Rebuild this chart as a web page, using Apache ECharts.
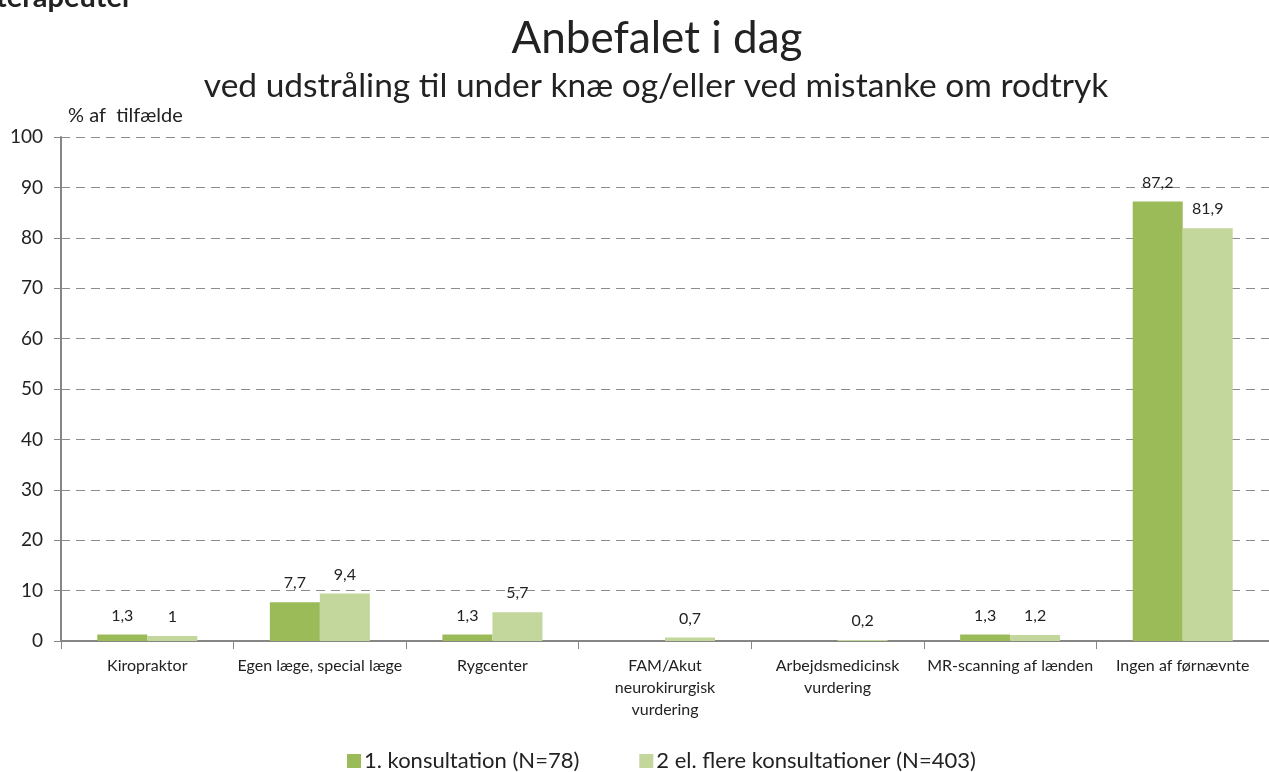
<!DOCTYPE html>
<html>
<head>
<meta charset="utf-8">
<script src="https://cdn.jsdelivr.net/npm/echarts@6/dist/echarts.min.js"></script>
<style>
  html, body { margin: 0; padding: 0; background: #fff; }
  #chart { width: 1269px; height: 772px; }
</style>
</head>
<body>
<div id="chart"></div>
<script>
// Categories and the two consultation groups (percent of cases)
const categories = [
  'Kiropraktor',
  'Egen læge, special læge',
  'Rygcenter',
  'FAM/Akut\nneurokirurgisk\nvurdering',
  'Arbejdsmedicinsk\nvurdering',
  'MR-scanning af lænden',
  'Ingen af førnævnte'
];
const firstConsult = [1.3, 7.7, 1.3, 0, 0, 1.3, 87.2];
const laterConsults = [1, 9.4, 5.7, 0.7, 0.2, 1.2, 81.9];
const seriesNames = ['1. konsultation (N=78)', '2 el. flere konsultationer (N=403)'];
const yTicks = [0, 10, 20, 30, 40, 50, 60, 70, 80, 90, 100];

const font = 'Lato, "Open Sans", sans-serif';
const fmt = p => p.value === 0 ? '' : String(p.value).replace('.', ',');

const chart = echarts.init(document.getElementById('chart'), null, { renderer: 'canvas' });
chart.setOption({
  animation: false,
  textStyle: { fontFamily: font },
  title: [
    { text: 'Anbefalet i dag', left: 652, top: 12, textAlign: 'center',
      textStyle: { fontSize: 44, fontWeight: 'normal', color: '#222', fontFamily: font } },
    { text: 'ved udstråling til under knæ og/eller ved mistanke om rodtryk', left: 651, top: 64, textAlign: 'center',
      textStyle: { fontSize: 33.5, fontWeight: 'normal', color: '#222', fontFamily: font } }
  ],
  graphic: [
    { type: 'text', left: -4, top: -17,
      style: { text: 'terapeuter', font: 'bold 29px ' + font, fill: '#222' } },
    { type: 'text', left: 68, top: 106,
      style: { text: '% af  tilfælde', font: '20px ' + font, fill: '#222' } }
  ],
  legend: {
    top: 745, left: 342, itemWidth: 14, itemHeight: 14, itemGap: 60,
    icon: 'rect',
    textStyle: { fontSize: 22, color: '#222', fontFamily: font, padding: [0, 0, 0, -2] },
    data: seriesNames
  },
  grid: { left: 61, top: 137, width: 1218, height: 504, containLabel: false },
  xAxis: {
    type: 'category', data: categories,
    axisLine: { lineStyle: { color: '#868686', width: 2 } },
    axisTick: { show: true, length: 8, lineStyle: { color: '#868686' } },
    axisLabel: { interval: 0, fontSize: 16, color: '#222', lineHeight: 22, margin: 14, fontFamily: font }
  },
  yAxis: {
    type: 'value', min: 0, max: 100, interval: 10,
    axisLine: { show: true, lineStyle: { color: '#868686', width: 2 } },
    axisTick: { show: true, length: 7, lineStyle: { color: '#868686' } },
    axisLabel: { fontSize: 19, color: '#222', margin: 18, fontFamily: font,
      formatter: v => yTicks.includes(v) ? String(v) : '' },
    splitLine: { lineStyle: { color: '#8c8c8c', type: [9, 6], width: 1 } }
  },
  series: [
    { name: seriesNames[0], type: 'bar', data: firstConsult, barWidth: 50, barGap: '0%',
      itemStyle: { color: '#9BBB59' },
      label: { show: true, position: 'top', distance: 11, fontSize: 16, color: '#222', formatter: fmt, fontFamily: font } },
    { name: seriesNames[1], type: 'bar', data: laterConsults, barWidth: 50,
      itemStyle: { color: '#C3D69B' },
      label: { show: true, position: 'top', distance: 11, fontSize: 16, color: '#222', formatter: fmt, fontFamily: font } }
  ]
});
</script>
</body>
</html>
